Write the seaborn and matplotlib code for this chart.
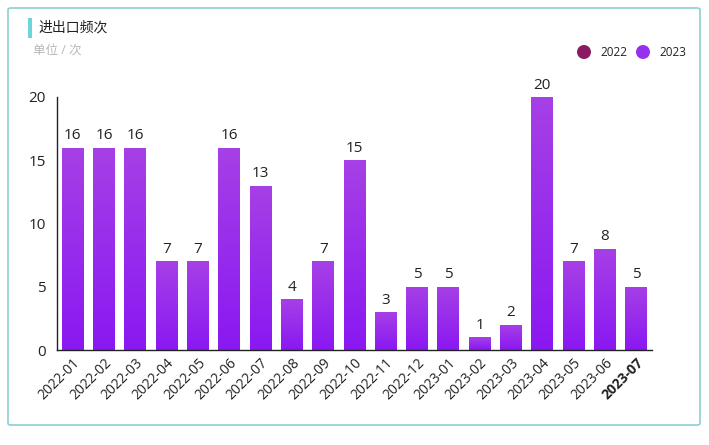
import matplotlib
matplotlib.use("Agg")
import matplotlib.pyplot as plt
import seaborn as sns
import numpy as np
import pandas as pd
from matplotlib.patches import FancyBboxPatch, Rectangle, Ellipse
from matplotlib.colors import LinearSegmentedColormap

months = ["2022-01", "2022-02", "2022-03", "2022-04", "2022-05", "2022-06", "2022-07",
          "2022-08", "2022-09", "2022-10", "2022-11", "2022-12", "2023-01", "2023-02",
          "2023-03", "2023-04", "2023-05", "2023-06", "2023-07"]
counts = [16, 16, 16, 7, 7, 16, 13, 4, 7, 15, 3, 5, 5, 1, 2, 20, 7, 8, 5]
legend_labels = ["2022", "2023"]
legend_colors = ["#8a1c64", "#9530ee"]
yticks = [0, 5, 10, 15, 20]

sns.set_theme(style="white")
plt.rcParams["font.family"] = ["Open Sans", "Noto Sans CJK SC", "DejaVu Sans"]

df = pd.DataFrame({"month": months, "count": counts})

W, H = 709, 445
fig = plt.figure(figsize=(W/100, H/100), dpi=100)
ax = fig.add_axes([57/W, 1-350/H, (652-57)/W, (350-97)/H])

sns.barplot(data=df, x="month", y="count", color="#9530ee", width=0.7, ax=ax,
            saturation=1, edgecolor="none")

# gradient fill for bars
grad = np.linspace(0, 1, 256).reshape(-1, 1)
cmap = LinearSegmentedColormap.from_list("g", ["#8a18f2", "#a640e6"])
for p in list(ax.patches):
    x0, y0 = p.get_x(), p.get_y()
    w, h = p.get_width(), p.get_height()
    im = ax.imshow(grad, extent=[x0, x0 + w, y0, y0 + h], aspect="auto",
                   cmap=cmap, origin="lower", zorder=p.get_zorder() + 0.1)
    im.set_clip_path(p)

for i, v in enumerate(counts):
    ax.text(i, v + 0.35, str(v), ha="center", va="bottom", fontsize=11, color="#222222")

ax.set_xlim(-0.5, len(months) - 0.5)
ax.set_ylim(0, 20)
ax.set_yticks(yticks)
ax.set_yticklabels([str(t) for t in yticks], fontsize=11, color="#222222")
ax.set_xticks(range(len(months)))
ax.set_xticklabels(months, rotation=45, ha="right", rotation_mode="anchor", fontsize=10, color="#222222")
ax.get_xticklabels()[-1].set_fontweight("bold")
ax.tick_params(axis="both", length=0, pad=4)
ax.tick_params(axis="y", pad=8)
ax.set_xlabel("")
ax.set_ylabel("")
for s in ["top", "right"]:
    ax.spines[s].set_visible(False)
for s in ["left", "bottom"]:
    ax.spines[s].set_color("#222222")
    ax.spines[s].set_linewidth(1.0)
ax.set_facecolor("none")

# panel border
border = FancyBboxPatch((8/W, 1-425/H), (700-8)/W, (425-8)/H,
                        boxstyle="round,pad=0,rounding_size=0.004",
                        transform=fig.transFigure, fill=False,
                        edgecolor="#8ccfd2", linewidth=1.2, zorder=0)
fig.patches.append(border)

# title marker
fig.patches.append(Rectangle((28/W, 1-38/H), 4/W, 20/H, transform=fig.transFigure,
                             facecolor="#6fd6d8", edgecolor="none"))
fig.text(38/W, 1-28/H, "进出口频次", fontsize=10, va="center", ha="left", color="#222222")
fig.text(33/W, 1-50/H, "单位 / 次", fontsize=9, va="center", ha="left", color="#b8b8b8")

# legend
lx = [584, 643]
for xx, lab, col in zip(lx, legend_labels, legend_colors):
    fig.patches.append(Ellipse((xx/W, 1-52/H), 14/W, 14/H, transform=fig.transFigure,
                               facecolor=col, edgecolor="none"))
    fig.text((xx+16)/W, 1-52/H, lab, fontsize=8.5, va="center", ha="left", color="#222222")

fig.savefig("out.png", dpi=100)
